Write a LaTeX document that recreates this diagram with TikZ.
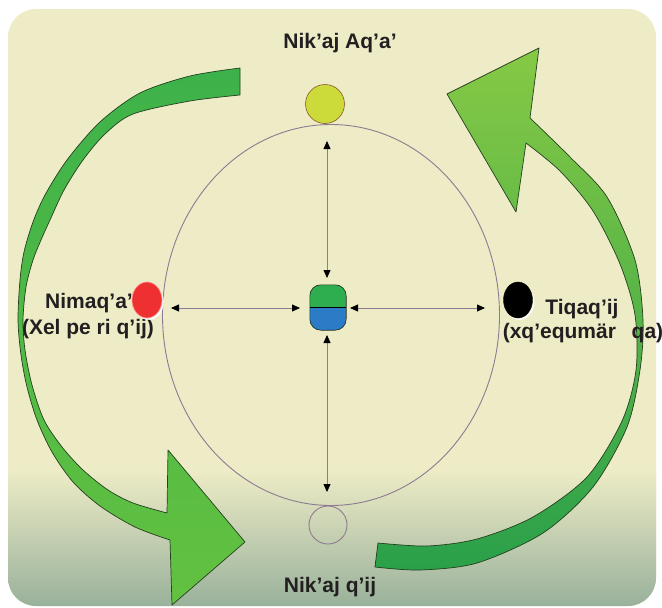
\documentclass[tikz,border=0pt]{standalone}
\usepackage{fontspec}
\setmainfont{Liberation Sans}
\usetikzlibrary{arrows.meta,shapes.geometric,shadows}
\definecolor{bgcream}{HTML}{EDECC6}
\definecolor{bgdark}{HTML}{98B09A}
\definecolor{orbitcol}{HTML}{8E7A92}
\definecolor{txtcol}{HTML}{231F20}
\definecolor{gdarkA}{HTML}{3DB24A}
\definecolor{glightA}{HTML}{63C140}
\definecolor{gdarkB}{HTML}{2AA04A}
\definecolor{glightB}{HTML}{86C945}
\definecolor{goutline}{HTML}{24401F}
\definecolor{redc}{HTML}{EE3130}
\definecolor{yelc}{HTML}{CCDA3A}
\definecolor{boxgreen}{HTML}{2EAE4E}
\definecolor{boxblue}{HTML}{2B7BC6}
\begin{document}
\begin{tikzpicture}[x=1pt,y=-1pt,
  lbl/.style={font=\bfseries\fontsize{21}{25}\selectfont, text=txtcol, inner sep=0pt, anchor=base},
  conn/.style={draw=orbitcol, line width=0.8pt,
    {Triangle[length=8pt,width=7pt,color=black]}-{Triangle[length=8pt,width=7pt,color=black]}},
  bigarrow/.style={draw=goutline, line width=0.7pt, line join=round},
  dot/.style={ellipse, inner sep=0pt, minimum width=30pt, minimum height=36pt}
]
\useasboundingbox (0,0) rectangle (662,608);
% background
\begin{scope}
  \clip[rounded corners=28pt] (8,9) rectangle (656,606);
  \fill[bgcream] (0,0) rectangle (662,608);
  \shade[top color=bgcream, bottom color=bgdark] (0,470) rectangle (662,608);
\end{scope}

% left green arrow
\shadedraw[bigarrow, top color=gdarkA, bottom color=glightA]
  plot[smooth] coordinates {(240,68) (190,76) (140,93) (100,122) (67,160) (45,195) (33,222) (24,252) (20,280) (18,320) (21,355) (27,387) (37,420) (52,452) (73,482) (100,506) (135,527) (170,540)}
  -- (172,605) -- (245,542) -- (168,450) -- (167,513)
  -- plot[smooth] coordinates {(167,513) (133,503) (108,490) (83,470) (62,447) (44,420) (32,385) (25,350) (23,320) (26,287) (33,260) (41,240) (50,220) (64,190) (83,160) (105,134) (133,114) (190,101) (240,95)}
  -- cycle;

% right green arrow
\shadedraw[bigarrow, top color=glightB, bottom color=gdarkB]
  plot[smooth] coordinates {(375,567) (420,570) (477,563) (543,533) (593,487) (627,427) (640,370) (643,320) (635,260) (607,197) (570,157) (530,118)}
  -- (539,48) -- (447,94) -- (516,212) -- (526,143)
  -- plot[smooth] coordinates {(526,143) (560,171) (593,211) (620,264) (635,315) (636,370) (622,421) (587,477) (533,517) (477,539) (427,546) (378,543)}
  -- cycle;

% orbit
\node[ellipse, draw=orbitcol, line width=0.9pt, minimum width=337pt, minimum height=381pt, inner sep=0pt] (orbit) at (331,315) {};

% center box
\node[rectangle, minimum width=36pt, minimum height=45pt, inner sep=0pt] (box) at (328,307.5) {};
\begin{scope}
  \clip[rounded corners=11pt] (box.north west) rectangle (box.south east);
  \fill[boxgreen] (box.north west) rectangle (box.east);
  \fill[boxblue] (box.west) rectangle (box.south east);
\end{scope}
\draw[goutline!60!black, line width=0.6pt, rounded corners=11pt] (box.north west) rectangle (box.south east);
\draw[black, line width=1.5pt] (box.west) -- (box.east);

% arrow end points
\coordinate (topA) at (327,141);
\coordinate (topB) at (327,278);
\coordinate (botA) at (327,335);
\coordinate (botB) at (327,492);
\coordinate (lefA) at (171,308);
\coordinate (lefB) at (300,308);
\coordinate (rigA) at (350,308);
\coordinate (rigB) at (485,308);
\draw[conn] (topA) -- (topB);
\draw[conn] (botA) -- (botB);
\draw[conn] (lefA) -- (lefB);
\draw[conn] (rigA) -- (rigB);

% top and bottom circles
\node[circle, inner sep=0pt, minimum size=39pt, fill=yelc, draw=brown!70!black, line width=0.6pt] (sunup) at (325,104) {};
\node[circle, inner sep=0pt, minimum size=38pt, draw=orbitcol, line width=0.9pt] (sundown) at (328,525) {};

% labels
\node[lbl] (tA) at (340,48) {Nik’aj Aq’a’};
\node[lbl] (tB) at (330,592) {Nik’aj q’ij};
\node[lbl] (tL1) at (89,308) {Nimaq’a’};
\node[lbl] (tL2) at (88,334) {(Xel pe ri q’ij)};
\node[lbl] (tR1) at (582,314) {Tiqaq’ij};
\node[lbl] (tR2) at (583,338) {(xq’equmär\hspace{0.75em}qa)};

% side dots
\node[dot, fill=redc, draw=pink!80!red, line width=0.6pt,
  drop shadow={shadow xshift=1.8pt, shadow yshift=-2pt, fill=white, opacity=0.85}] (east) at (147,300) {};
\node[dot, fill=black, draw=black, minimum width=29pt,
  drop shadow={shadow xshift=1.8pt, shadow yshift=-2pt, fill=white, opacity=0.85}] (west) at (518,300) {};
\end{tikzpicture}
\end{document}
